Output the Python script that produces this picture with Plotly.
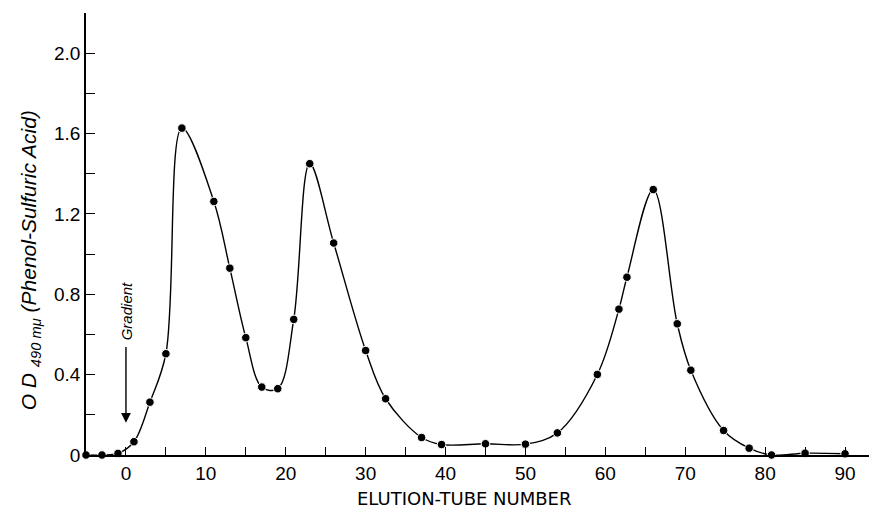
import plotly.graph_objects as go

# Tube numbers and optical density
tube = [-5, -3, -1, 1, 3, 5, 7, 11, 13, 15, 17, 19, 21, 23, 26, 30, 32.5, 37, 39.5,
        45, 50, 54, 59, 61.7, 62.7, 66, 69, 70.7, 74.8, 78, 80.8, 85, 90]
od = [0.0, 0.0, 0.008, 0.066, 0.263, 0.504, 1.627, 1.262, 0.930, 0.584, 0.338, 0.330,
      0.675, 1.450, 1.055, 0.520, 0.280, 0.087, 0.052, 0.056, 0.054, 0.110, 0.401,
      0.726, 0.885, 1.321, 0.653, 0.422, 0.122, 0.034, 0.0, 0.009, 0.006]

x_tickvals = [0, 10, 20, 30, 40, 50, 60, 70, 80, 90]
x_ticktext = ["0", "10", "20", "30", "40", "50", "60", "70", "80", "90"]
y_tickvals = [0, 0.4, 0.8, 1.2, 1.6, 2.0]
y_ticktext = ["0", "0.4", "0.8", "1.2", "1.6", "2.0"]

fig = go.Figure()
fig.add_trace(go.Scatter(
    x=tube, y=od, mode="lines",
    line=dict(color="black", width=1.4, shape="spline", smoothing=1.0),
    hoverinfo="skip", showlegend=False,
))
fig.add_trace(go.Scatter(
    x=tube, y=od, mode="markers",
    marker=dict(color="black", size=8.5, line=dict(color="white", width=1)),
    cliponaxis=False, showlegend=False,
))

fig.add_annotation(x=0, y=0.16, ax=0, ay=0.545, xref="x", yref="y", axref="x", ayref="y",
                   text="", showarrow=True, arrowhead=2, arrowsize=1.4, arrowwidth=1.4,
                   arrowcolor="black")
fig.add_annotation(x=0.1, y=0.714, xref="x", yref="y", text="<i>Gradient</i>",
                   textangle=-90, showarrow=False,
                   font=dict(family="Liberation Sans", size=15, color="black"))
fig.add_annotation(x=-0.071, y=0.44, xref="paper", yref="paper",
                   text="<i>O D <sub>490 mμ</sub> (Phenol-Sulfuric Acid)</i>",
                   textangle=-90, showarrow=False, xanchor="center", yanchor="middle",
                   font=dict(family="Liberation Sans", size=21, color="black"))
fig.add_annotation(x=0.478, y=-0.098, xref="paper", yref="paper",
                   text="ELUTION-TUBE NUMBER", showarrow=False,
                   xanchor="center", yanchor="middle",
                   font=dict(family="DejaVu Sans", size=18, color="black"))

fig.update_layout(
    width=869, height=502,
    margin=dict(l=78, r=0, t=5, b=55),
    paper_bgcolor="white", plot_bgcolor="white",
    font=dict(family="Liberation Sans", size=19, color="black"),
    xaxis=dict(range=[-5, 94], showgrid=False, zeroline=False,
               showline=True, linecolor="black", linewidth=2,
               ticks="inside", ticklen=8, tickwidth=1.3, tickcolor="black",
               tickvals=x_tickvals, ticktext=x_ticktext,
               minor=dict(ticks="inside", tick0=5, dtick=10, ticklen=8,
                          tickwidth=1.3, tickcolor="black", showgrid=False)),
    yaxis=dict(range=[0, 2.2], showgrid=False, zeroline=False,
               showline=True, linecolor="black", linewidth=1.5,
               ticks="inside", ticklen=9, tickwidth=1.3, tickcolor="black",
               tickvals=y_tickvals, ticktext=y_ticktext,
               minor=dict(ticks="inside", tick0=0.2, dtick=0.4, ticklen=9,
                          tickwidth=1.3, tickcolor="black", showgrid=False)),
)

fig.write_html("out.html")
